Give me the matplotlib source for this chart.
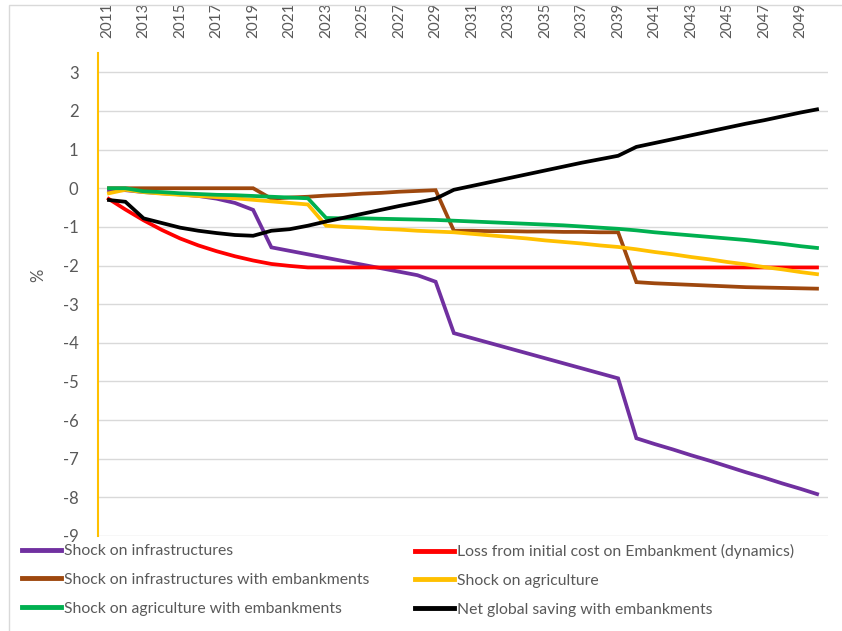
import matplotlib
matplotlib.use("Agg")
import matplotlib.pyplot as plt
from matplotlib.lines import Line2D
from matplotlib.patches import Rectangle

years = list(range(2011, 2051))

shock_infra = [-0.05, -0.05, -0.10, -0.13, -0.16, -0.20, -0.27, -0.38, -0.56,
               -1.53, -1.62, -1.71, -1.80, -1.89, -1.98, -2.07, -2.16, -2.25, -2.42,
               -3.75, -3.88, -4.01, -4.14, -4.27, -4.40, -4.53, -4.66, -4.79, -4.92,
               -6.47, -6.62, -6.76, -6.91, -7.05, -7.20, -7.35, -7.49, -7.64, -7.78, -7.93]

loss_initial = [-0.25, -0.55, -0.83, -1.08, -1.30, -1.48, -1.63, -1.76, -1.87,
                -1.96, -2.01, -2.05, -2.05, -2.05, -2.05, -2.05, -2.05, -2.05, -2.05,
                -2.05, -2.05, -2.05, -2.05, -2.05, -2.05, -2.05, -2.05, -2.05, -2.05,
                -2.05, -2.05, -2.05, -2.05, -2.05, -2.05, -2.05, -2.05, -2.05, -2.05, -2.05]

shock_infra_emb = [0.0, 0.0, 0.0, 0.0, 0.0, 0.0, 0.0, 0.0, 0.0,
                   -0.27, -0.24, -0.22, -0.19, -0.17, -0.14, -0.12, -0.09, -0.07, -0.05,
                   -1.10, -1.10, -1.11, -1.11, -1.12, -1.12, -1.13, -1.13, -1.14, -1.14,
                   -2.43, -2.46, -2.48, -2.50, -2.52, -2.54, -2.56, -2.57, -2.58, -2.59, -2.60]

shock_agri = [-0.14, -0.04, -0.10, -0.14, -0.17, -0.20, -0.23, -0.26, -0.30,
              -0.34, -0.38, -0.42, -0.97, -1.00, -1.02, -1.05, -1.07, -1.10, -1.12,
              -1.14, -1.18, -1.22, -1.26, -1.30, -1.35, -1.39, -1.43, -1.48, -1.52,
              -1.58, -1.65, -1.71, -1.78, -1.84, -1.91, -1.97, -2.04, -2.10, -2.17, -2.23]

shock_agri_emb = [0.0, 0.0, -0.08, -0.10, -0.13, -0.15, -0.17, -0.18, -0.20,
                  -0.22, -0.24, -0.26, -0.77, -0.78, -0.78, -0.79, -0.80, -0.81, -0.82,
                  -0.84, -0.86, -0.88, -0.90, -0.92, -0.94, -0.96, -0.99, -1.02, -1.05,
                  -1.09, -1.14, -1.18, -1.22, -1.26, -1.30, -1.34, -1.39, -1.44, -1.50, -1.55]

net_saving = [-0.30, -0.35, -0.78, -0.90, -1.02, -1.10, -1.16, -1.21, -1.23,
              -1.10, -1.06, -0.97, -0.86, -0.76, -0.66, -0.56, -0.46, -0.37, -0.27,
              -0.04, 0.06, 0.16, 0.26, 0.36, 0.46, 0.56, 0.66, 0.75, 0.84,
              1.07, 1.17, 1.27, 1.37, 1.47, 1.57, 1.67, 1.76, 1.86, 1.96, 2.05]

series = [
    ("Shock on infrastructures", shock_infra, "#7030A0"),
    ("Loss from initial cost on Embankment (dynamics)", loss_initial, "#FF0000"),
    ("Shock on infrastructures with embankments", shock_infra_emb, "#9E480E"),
    ("Shock on agriculture", shock_agri, "#FFC000"),
    ("Shock on agriculture with embankments", shock_agri_emb, "#00B050"),
    ("Net global saving with embankments", net_saving, "#000000"),
]

plt.rcParams['font.family'] = ['Lato', 'DejaVu Sans']
W, H = 842, 631
fig = plt.figure(figsize=(W / 100, H / 100), dpi=100)
fig.patches.append(Rectangle((9 / W, -0.1), 1.2, 1 - 5 / H + 0.1, transform=fig.transFigure,
                             fill=False, edgecolor="#D9D9D9", linewidth=1.0))

ax = fig.add_axes([98 / W, 1 - 536 / H, 730 / W, (536 - 53) / H])
handles = {}
for name, vals, col in series:
    h, = ax.plot(years, vals, color=col, linewidth=2.7, solid_joinstyle='miter',
                 solid_capstyle='butt', label=name)
    handles[name] = h

ax.set_xlim(2010.5, 2050.5)
ax.set_ylim(-9, 3.5)
ax.set_yticks(range(-9, 4))
ax.set_yticklabels([str(v) for v in range(-9, 4)])
ax.grid(axis='y', color="#D9D9D9", linewidth=1.0)
ax.set_axisbelow(True)
for s in ['top', 'right', 'bottom']:
    ax.spines[s].set_visible(False)
ax.spines['left'].set_color("#FFC000")
ax.spines['left'].set_linewidth(1.5)
ax.tick_params(axis='y', length=0, pad=14, labelsize=12, labelcolor="#595959")

xt = years[::2]
ax.xaxis.tick_top()
ax.set_xticks(xt)
ax.set_xticklabels([str(y) for y in xt], rotation=90)
ax.tick_params(axis='x', length=0, pad=11, labelsize=11, labelcolor="#595959")

fig.text(38 / W, 1 - 275 / H, "%", rotation=90, ha='center', va='center',
         fontsize=12, color="#595959")

names = [s[0] for s in series]
col1 = [names[0], names[2], names[4]]
col2 = [names[1], names[3], names[5]]
for colnames, x0 in ((col1, 22), (col2, 415)):
    fig.legend([Line2D([], [], color=handles[n].get_color(), linewidth=3.5) for n in colnames],
               colnames, loc='upper left', bbox_to_anchor=(x0 / W, 1 - 544 / H),
               frameon=False, fontsize=11.3, handlelength=2.5, handletextpad=0.15,
               labelspacing=0.95, borderaxespad=0, borderpad=0, labelcolor="#595959")

fig.savefig("out.png", dpi=100)
